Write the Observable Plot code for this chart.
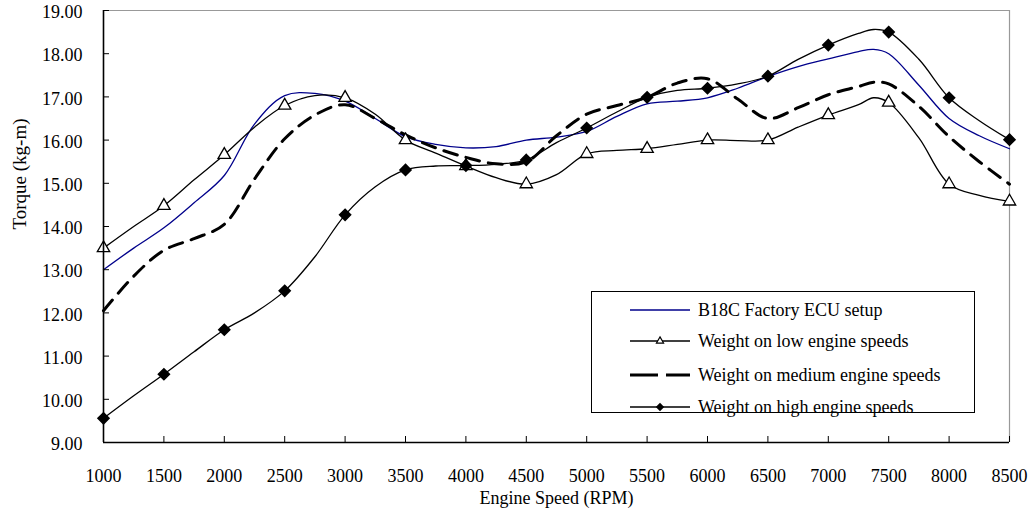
<!DOCTYPE html>
<html><head><meta charset="utf-8">
<script src="https://cdn.jsdelivr.net/npm/d3@7"></script>
<script src="https://cdn.jsdelivr.net/npm/@observablehq/plot@0.6"></script>
<style>
body{margin:0;background:#fff}
#wrap{position:relative;width:1034px;height:515px}
#wrap svg{position:absolute;left:0;top:0}
</style>
</head><body><div id="wrap"></div>
<script>
// Engine speed (RPM) sample positions
const rpm = [1000,1250,1500,1750,2000,2250,2500,2750,3000,3250,3500,3750,4000,4250,4500,4750,5000,5250,5500,5750,6000,6250,6500,6750,7000,7250,7375,7500,7750,8000,8250,8500];
// Torque (kg-m) per series
const factory = [13.0,13.5,13.97,14.55,15.18,16.37,17.03,17.08,16.9,16.5,16.08,15.9,15.82,15.85,16.0,16.07,16.2,16.55,16.84,16.9,16.98,17.2,17.47,17.7,17.88,18.05,18.1,18.0,17.27,16.5,16.1,15.8];
const lowW = [13.5,14.0,14.48,15.08,15.66,16.3,16.8,17.03,16.98,16.6,16.0,15.7,15.4,15.13,14.98,15.2,15.68,15.76,15.8,15.9,16.0,15.99,16.0,16.3,16.58,16.82,16.98,16.87,16.05,14.98,14.72,14.58];
const medW = [12.05,12.85,13.45,13.72,14.05,15.1,16.03,16.58,16.82,16.5,16.12,15.82,15.6,15.45,15.5,16.1,16.6,16.8,16.99,17.32,17.42,16.95,16.5,16.75,17.05,17.24,17.34,17.3,16.78,16.08,15.5,14.98];
const highW = [9.56,10.08,10.58,11.1,11.61,12.0,12.51,13.3,14.27,14.92,15.31,15.4,15.41,15.44,15.54,15.94,16.28,16.65,16.99,17.15,17.2,17.3,17.48,17.87,18.2,18.47,18.56,18.5,17.87,16.98,16.45,16.01];
const seriesNames = ["B18C Factory ECU setup","Weight on low engine speeds","Weight on medium engine speeds","Weight on high engine speeds"];
const xTicks = [1000,1500,2000,2500,3000,3500,4000,4500,5000,5500,6000,6500,7000,7500,8000,8500];
const yTicks = [9,10,11,12,13,14,15,16,17,18,19];
const xTitle = "Engine Speed (RPM)";
const yTitle = "Torque (kg-m)";

const FONT = "'Liberation Serif','Times New Roman',serif";
const rows = vals => rpm.map((r,i)=>({rpm:r, v:vals[i]}));
const markers = rs => rs.filter(d => d.rpm % 500 === 0);
const fR = rows(factory), lR = rows(lowW), mR = rows(medW), hR = rows(highW);

const W = 1034, H = 515, mL = 103, mR_ = 25, mT = 10, mB = 73;
const plotW = W - mL - mR_, plotH = H - mT - mB;

const chart = Plot.plot({
  width: W, height: H,
  marginLeft: mL, marginRight: mR_, marginTop: mT, marginBottom: mB,
  x: {domain: [1000, 8500], label: null},
  y: {domain: [9, 19], label: null},
  style: {fontFamily: FONT, fontSize: "18px", color: "black", background: "white", overflow: "visible"},
  marks: [
    Plot.ruleY([19], {stroke: "#999", strokeWidth: 1.2}),
    Plot.ruleX([8500], {stroke: "#999", strokeWidth: 1.2}),
    Plot.line(fR, {x: "rpm", y: "v", curve: "catmull-rom", stroke: "#00008b", strokeWidth: 1.3}),
    Plot.line(lR, {x: "rpm", y: "v", curve: "catmull-rom", stroke: "black", strokeWidth: 1.3}),
    Plot.line(mR, {x: "rpm", y: "v", curve: "catmull-rom", stroke: "black", strokeWidth: 3, strokeDasharray: "14,9"}),
    Plot.line(hR, {x: "rpm", y: "v", curve: "catmull-rom", stroke: "black", strokeWidth: 1.3}),
    Plot.dot(markers(lR), {x: "rpm", y: "v", symbol: "triangle", r: 4.6, stroke: "black", fill: "white", strokeWidth: 1.3}),
    Plot.dot(markers(hR), {x: "rpm", y: "v", symbol: "diamond2", r: 5, fill: "black", stroke: "black"}),
    Plot.ruleX([1000], {stroke: "black", strokeWidth: 1.6}),
    Plot.ruleY([9], {stroke: "black", strokeWidth: 1.6}),
    Plot.tickX(xTicks, {x: d => d, insetTop: plotH - 6, stroke: "black", strokeWidth: 1}),
    Plot.tickY(yTicks, {y: d => d, insetRight: plotW - 6, stroke: "black", strokeWidth: 1}),
    Plot.axisX(xTicks, {tickSize: 0, tickPadding: 27, tickFormat: d => String(d), fontSize: 18}),
    Plot.axisY(yTicks, {tickSize: 0, tickPadding: 21, tickFormat: d => d.toFixed(2), fontSize: 18, dy: 2}),
    Plot.text([xTitle], {frameAnchor: "bottom", dy: 61, fontSize: 18}),
    Plot.text([yTitle], {frameAnchor: "left", dx: -84, dy: 3, rotate: -90, fontSize: 19})
  ]
});
document.getElementById("wrap").appendChild(chart);

// Legend overlay
const leg = d3.select("#wrap").append("svg").attr("width", W).attr("height", H)
  .style("pointer-events", "none").style("font-family", FONT).style("font-size", "18px");
leg.append("rect").attr("x", 591.5).attr("y", 291.5).attr("width", 383).attr("height", 121)
  .attr("fill", "white").attr("stroke", "black").attr("stroke-width", 1);
const rowY = [310, 341, 375, 407];
const styles = [
  {stroke: "#00008b", w: 1.3, dash: null, sym: null},
  {stroke: "black", w: 1.3, dash: null, sym: "tri"},
  {stroke: "black", w: 3, dash: "28,8", sym: null},
  {stroke: "black", w: 1.3, dash: null, sym: "dia"}
];
seriesNames.forEach((name, i) => {
  const s = styles[i], y = rowY[i];
  const ln = leg.append("line").attr("x1", 630).attr("x2", 690).attr("y1", y).attr("y2", y)
    .attr("stroke", s.stroke).attr("stroke-width", s.w);
  if (s.dash) ln.attr("stroke-dasharray", s.dash);
  if (s.sym === "tri") leg.append("path").attr("d", d3.symbol(d3.symbolTriangle2, 36)())
    .attr("transform", `translate(660,${y})`).attr("fill", "white").attr("stroke", "black").attr("stroke-width", 1.2);
  if (s.sym === "dia") leg.append("path").attr("d", d3.symbol(d3.symbolDiamond2, 45)())
    .attr("transform", `translate(660,${y})`).attr("fill", "black");
  leg.append("text").attr("x", 698).attr("y", y).attr("dy", "0.35em").text(name);
});
</script>
</body></html>
